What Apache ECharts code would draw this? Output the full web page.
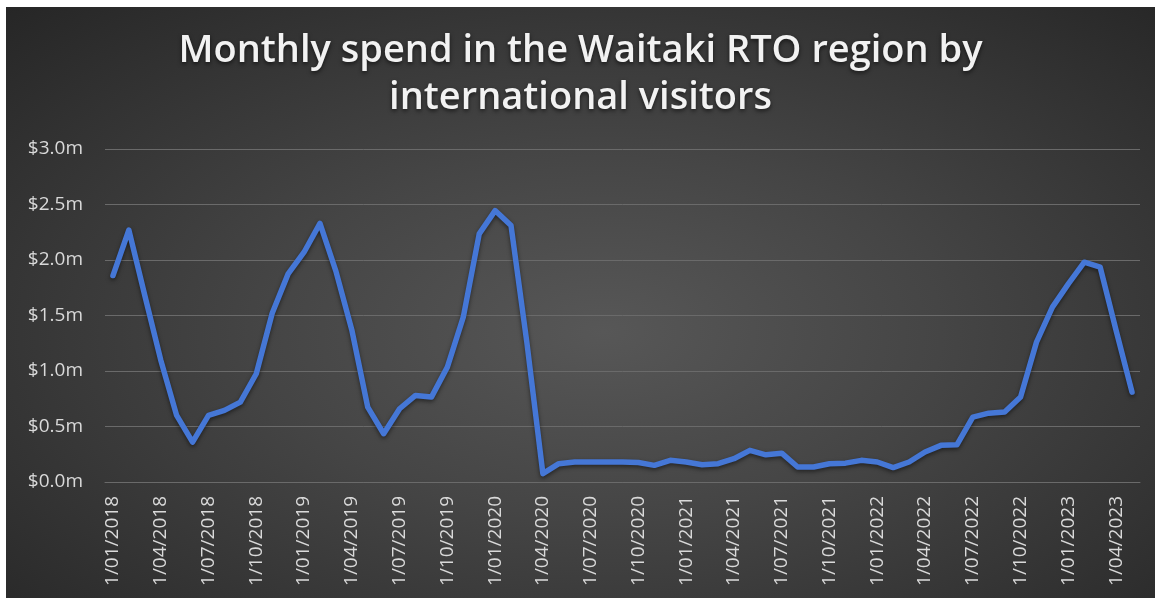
<!DOCTYPE html>
<html>
<head>
<meta charset="utf-8">
<script src="https://cdn.jsdelivr.net/npm/echarts@6/dist/echarts.min.js"></script>
<style>
  html, body { margin: 0; padding: 0; background: #ffffff; }
  #chart {
    position: absolute; left: 6px; top: 7px; width: 1149px; height: 591px;
    background: radial-gradient(ellipse farthest-corner at 52% 55%, #575757 0%, #454545 40%, #262626 100%);
  }
</style>
</head>
<body>
<div id="chart"></div>
<script>
const categories = [
  '1/01/2018','1/02/2018','1/03/2018','1/04/2018','1/05/2018','1/06/2018','1/07/2018','1/08/2018','1/09/2018','1/10/2018','1/11/2018','1/12/2018',
  '1/01/2019','1/02/2019','1/03/2019','1/04/2019','1/05/2019','1/06/2019','1/07/2019','1/08/2019','1/09/2019','1/10/2019','1/11/2019','1/12/2019',
  '1/01/2020','1/02/2020','1/03/2020','1/04/2020','1/05/2020','1/06/2020','1/07/2020','1/08/2020','1/09/2020','1/10/2020','1/11/2020','1/12/2020',
  '1/01/2021','1/02/2021','1/03/2021','1/04/2021','1/05/2021','1/06/2021','1/07/2021','1/08/2021','1/09/2021','1/10/2021','1/11/2021','1/12/2021',
  '1/01/2022','1/02/2022','1/03/2022','1/04/2022','1/05/2022','1/06/2022','1/07/2022','1/08/2022','1/09/2022','1/10/2022','1/11/2022','1/12/2022',
  '1/01/2023','1/02/2023','1/03/2023','1/04/2023','1/05/2023'
];
// Monthly spend, $ millions
const spend = [
  1.86, 2.27, 1.68, 1.10, 0.60, 0.36, 0.60, 0.645, 0.72, 0.975, 1.52, 1.875,
  2.07, 2.33, 1.90, 1.37, 0.675, 0.435, 0.66, 0.78, 0.765, 1.035, 1.485, 2.235,
  2.445, 2.31, 1.25, 0.075, 0.165, 0.18, 0.18, 0.18, 0.18, 0.175, 0.15, 0.195,
  0.18, 0.155, 0.165, 0.21, 0.285, 0.245, 0.26, 0.135, 0.135, 0.165, 0.17, 0.195,
  0.18, 0.13, 0.18, 0.27, 0.33, 0.335, 0.585, 0.62, 0.63, 0.765, 1.26, 1.575,
  1.785, 1.98, 1.935, 1.365, 0.81
];
const titleText = 'Monthly spend in the Waitaki RTO region by\ninternational visitors';

const chart = echarts.init(document.getElementById('chart'), null, { renderer: 'canvas' });
chart.setOption({
  backgroundColor: 'transparent',
  animation: false,
  title: {
    text: titleText,
    left: 'center',
    top: 16,
    textStyle: {
      color: '#f2f2f2',
      fontFamily: 'Open Sans',
      fontWeight: 600,
      fontSize: 38,
      lineHeight: 47,
      align: 'center',
      textShadowColor: 'rgba(0,0,0,0.6)',
      textShadowBlur: 4,
      textShadowOffsetY: 2
    }
  },
  grid: { left: 99, right: 15, top: 142, bottom: 116, containLabel: false },
  xAxis: {
    type: 'category',
    data: categories,
    boundaryGap: true,
    axisLine: { show: true, lineStyle: { color: '#6a6a6a', width: 1 } },
    axisTick: { show: false },
    axisLabel: {
      interval: 2,
      rotate: 90,
      margin: 14,
      color: '#d9d9d9',
      fontFamily: 'Open Sans',
      fontSize: 19
    },
    splitLine: { show: false }
  },
  yAxis: {
    type: 'value',
    min: 0,
    max: 3,
    interval: 0.5,
    axisLine: { show: false },
    axisTick: { show: false },
    axisLabel: {
      margin: 22,
      color: '#d9d9d9',
      fontFamily: 'Open Sans',
      fontSize: 19,
      formatter: v => '$' + v.toFixed(1) + 'm'
    },
    splitLine: { show: true, lineStyle: { color: '#6a6a6a', width: 1 } }
  },
  series: [{
    type: 'line',
    data: spend,
    showSymbol: false,
    symbol: 'none',
    lineStyle: {
      color: '#4577d6',
      width: 5.5,
      join: 'round',
      cap: 'round',
      shadowColor: 'rgba(0,0,0,0.5)',
      shadowBlur: 4,
      shadowOffsetY: 2
    }
  }]
});
</script>
</body>
</html>
